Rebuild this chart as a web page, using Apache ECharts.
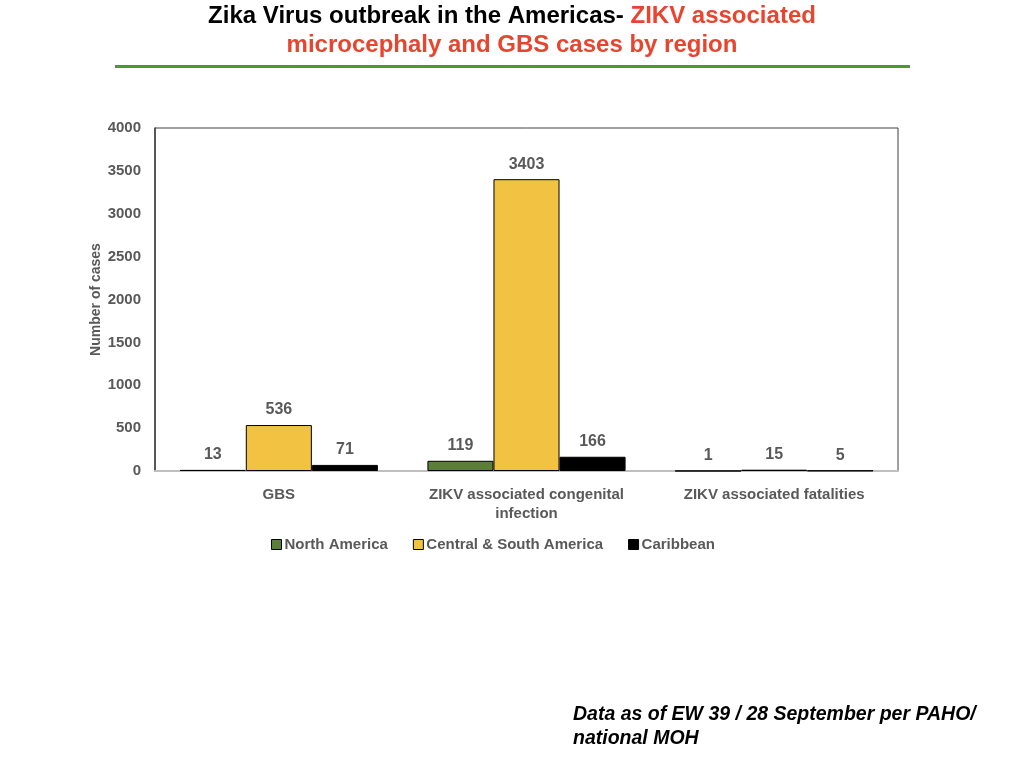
<!DOCTYPE html>
<html><head><meta charset="utf-8">
<script src="https://cdn.jsdelivr.net/npm/echarts@6/dist/echarts.min.js"></script>
<style>html,body{margin:0;padding:0;background:#fff}#c{width:1024px;height:768px}</style>
</head><body><div id="c"></div>
<script>
const categories = ['GBS', 'ZIKV associated congenital\ninfection', 'ZIKV associated fatalities'];
const northAmerica = [13, 119, 1];
const centralSouthAmerica = [536, 3403, 15];
const caribbean = [71, 166, 5];
const yTicks = {min: 0, max: 4000, interval: 500};

const chart = echarts.init(document.getElementById('c'));
const FF = 'Liberation Sans, Arial';
const lbl = {show: true, position: 'top', distance: 7, color: '#595959', fontWeight: 'bold', fontSize: 16, fontFamily: FF};
const tf = 'bold 24px Liberation Sans Narrow, Liberation Sans, Arial';
chart.setOption({
  animation: false,
  graphic: [
    {type: 'text', x: 512, y: 4, style: {
      text: '{b|Zika Virus outbreak in the Americas- }{r|ZIKV associated}',
      align: 'center', verticalAlign: 'top',
      rich: {b: {fill: '#000', font: tf}, r: {fill: '#e8452f', font: tf}}
    }},
    {type: 'text', x: 512, y: 33, style: {
      text: 'microcephaly and GBS cases by region', align: 'center', verticalAlign: 'top',
      fill: '#e8452f', font: tf
    }},
    {type: 'rect', shape: {x: 115, y: 65, width: 795, height: 3}, style: {fill: '#4a9a2e'}},
    {type: 'text', left: 573, top: 703, style: {text: 'Data as of EW 39 / 28 September per PAHO/\nnational MOH', fill: '#000', font: 'italic bold 19.5px Liberation Sans, Arial', lineHeight: 24}}
  ],
  legend: {
    top: 532, left: 266, itemWidth: 10, itemHeight: 10, itemGap: 25,
    icon: 'rect',
    textStyle: {color: '#595959', fontWeight: 'bold', fontSize: 15, fontFamily: FF, padding: [0, 0, 0, -2]},
    data: [
      {name: 'North America', itemStyle: {borderColor: '#000', borderWidth: 1}},
      {name: 'Central & South America', itemStyle: {borderColor: '#000', borderWidth: 1}},
      {name: 'Caribbean', itemStyle: {borderColor: '#000', borderWidth: 1}}
    ]
  },
  grid: {left: 155, right: 126, top: 128, bottom: 297, show: true, borderColor: '#404040', borderWidth: 1},
  xAxis: {
    type: 'category', data: categories,
    axisLine: {lineStyle: {color: '#bfbfbf', width: 2}},
    axisTick: {show: false},
    axisLabel: {interval: 0, color: '#595959', fontWeight: 'bold', fontSize: 15, fontFamily: FF, margin: 14, lineHeight: 19}
  },
  yAxis: {
    type: 'value', min: yTicks.min, max: yTicks.max, interval: yTicks.interval,
    name: 'Number of cases', nameLocation: 'middle', nameGap: 52, nameRotate: 90, nameMoveOverlap: false,
    nameTextStyle: {color: '#595959', fontWeight: 'bold', fontSize: 14, fontFamily: FF},
    axisLine: {show: true, lineStyle: {color: '#404040', width: 1.5}},
    axisTick: {show: false},
    splitLine: {show: false},
    axisLabel: {color: '#595959', fontWeight: 'bold', fontSize: 15, fontFamily: FF, margin: 14, formatter: v => String(v)}
  },
  series: [
    {name: 'North America', type: 'bar', data: northAmerica, barGap: '0%', barCategoryGap: '20%',
     itemStyle: {color: '#5b7f3a', borderColor: '#000', borderWidth: 1}, label: lbl},
    {name: 'Central & South America', type: 'bar', data: centralSouthAmerica,
     itemStyle: {color: '#f2c343', borderColor: '#000', borderWidth: 1}, label: lbl},
    {name: 'Caribbean', type: 'bar', data: caribbean,
     itemStyle: {color: '#000', borderColor: '#000', borderWidth: 1}, label: lbl}
  ]
});
</script></body></html>
